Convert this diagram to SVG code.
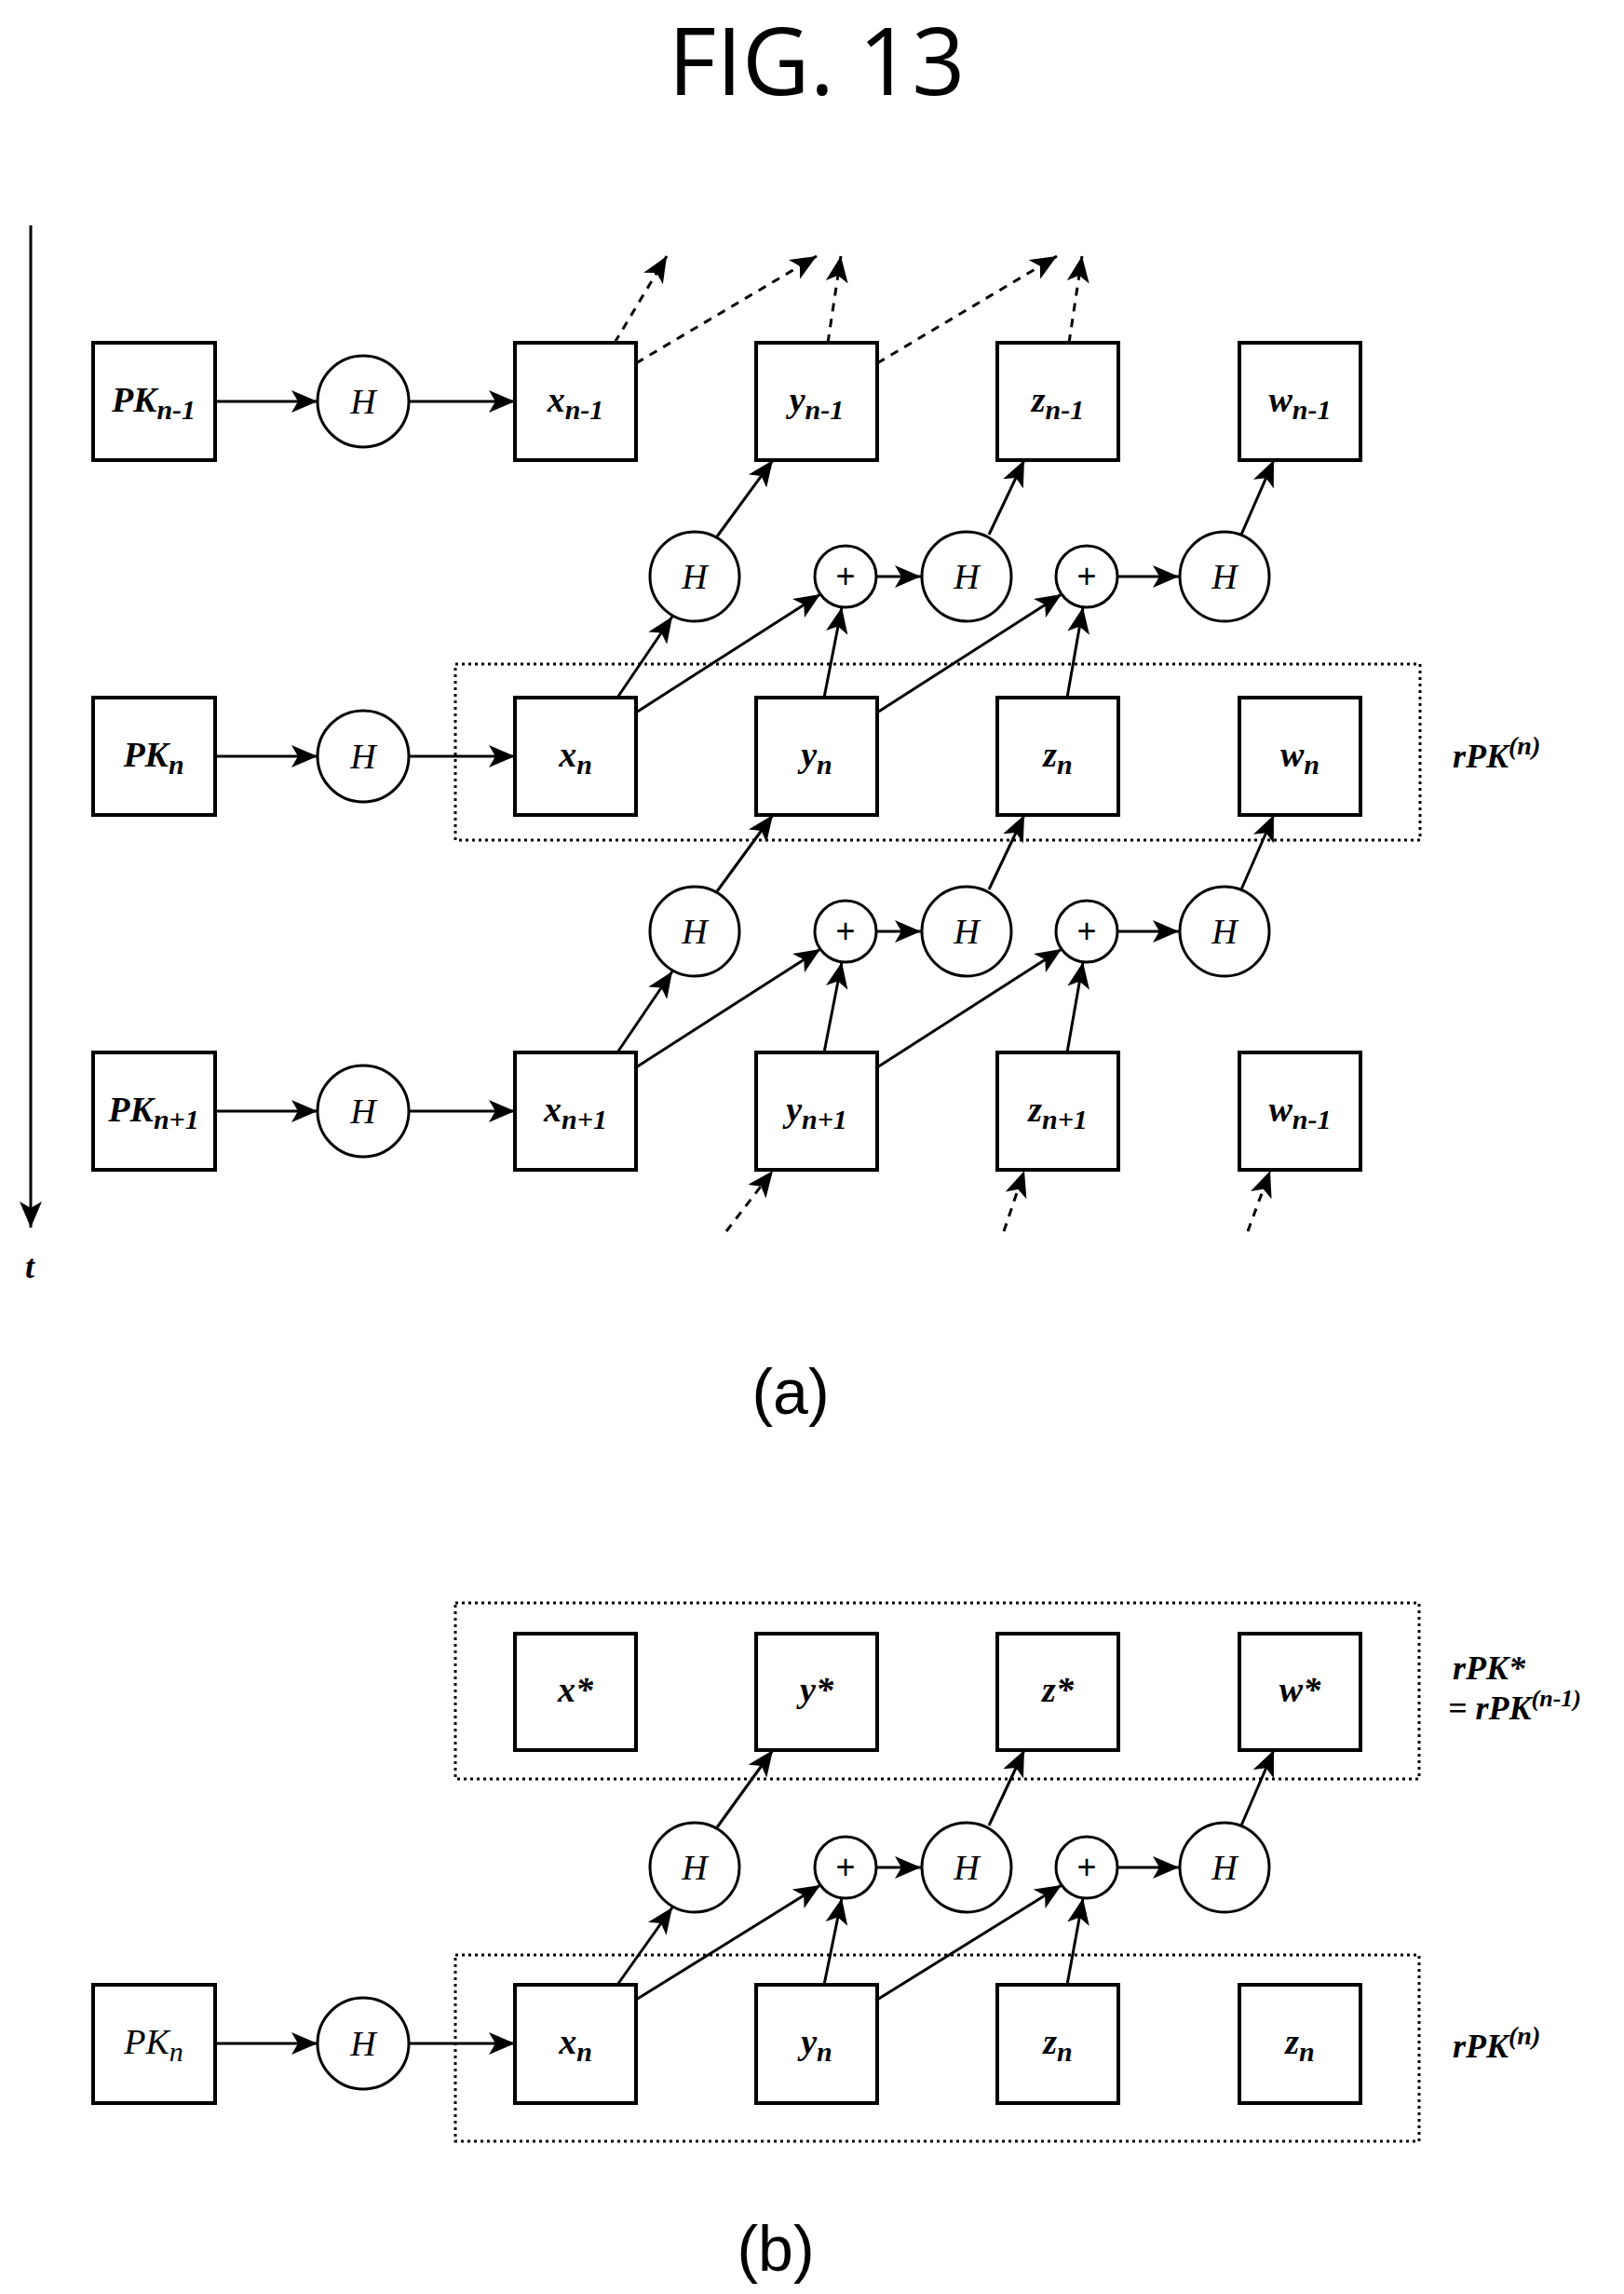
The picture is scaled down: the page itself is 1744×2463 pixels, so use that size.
<svg xmlns="http://www.w3.org/2000/svg" width="1744" height="2463" viewBox="0 0 1744 2463">
<style>
.b{fill:#fff;stroke:#000;stroke-width:4}
.c{fill:#fff;stroke:#000;stroke-width:3}
.d{fill:none;stroke:#000;stroke-width:3;stroke-dasharray:3 4}
.e{fill:none;stroke:#000;stroke-width:3;marker-end:url(#ah)}
.ed{fill:none;stroke:#000;stroke-width:3;stroke-dasharray:9 8;marker-end:url(#ah)}
.t{font-family:"Liberation Serif",serif;font-style:italic;font-weight:bold;font-size:38px;text-anchor:middle}
.h{font-family:"Liberation Serif",serif;font-style:italic;font-size:38px;text-anchor:middle}
.p{font-family:"Liberation Sans",sans-serif;font-size:36px;text-anchor:middle}
.s{font-size:30px}
.l{font-family:"Liberation Serif",serif;font-style:italic;font-weight:bold;font-size:36px}
.cap{font-family:"Liberation Sans",Arial,sans-serif;font-size:68px;text-anchor:middle}
</style>
<defs>
<marker id="ah" markerUnits="userSpaceOnUse" markerWidth="30" markerHeight="24" refX="28" refY="12" orient="auto">
<path d="M0,0 L28,12 L0,24 L7,12 Z" fill="#000"/>
</marker>
</defs>
<rect width="1744" height="2463" fill="#fff"/>
<text x="877" y="102" font-family="'Open Sans','Liberation Sans',sans-serif" font-size="100" text-anchor="middle">FIG. 13</text>

<g id="time-axis">
<line x1="33" y1="242" x2="33" y2="1318" class="e"/>
<text x="32" y="1372" class="l" font-size="44" text-anchor="middle">t</text>
</g>

<g id="connectors">
<line x1="231" y1="431" x2="341" y2="431" class="e"/>
<line x1="439" y1="431" x2="553" y2="431" class="e"/>
<line x1="231" y1="812" x2="341" y2="812" class="e"/>
<line x1="439" y1="812" x2="553" y2="812" class="e"/>
<line x1="231" y1="1193" x2="341" y2="1193" class="e"/>
<line x1="439" y1="1193" x2="553" y2="1193" class="e"/>
<line x1="660" y1="368" x2="716" y2="275" class="ed"/>
<line x1="683" y1="390" x2="877" y2="275" class="ed"/>
<line x1="889" y1="368" x2="903" y2="275" class="ed"/>
<line x1="942" y1="390" x2="1135" y2="275" class="ed"/>
<line x1="1148" y1="368" x2="1162" y2="275" class="ed"/>
<line x1="780" y1="1322" x2="830" y2="1257" class="ed"/>
<line x1="1078" y1="1322" x2="1100" y2="1257" class="ed"/>
<line x1="1340" y1="1322" x2="1364" y2="1257" class="ed"/>
<line x1="663" y1="749" x2="722" y2="662" class="e"/>
<line x1="683" y1="765" x2="881" y2="638" class="e"/>
<line x1="885" y1="749" x2="904" y2="652" class="e"/>
<line x1="941" y1="619" x2="989" y2="619" class="e"/>
<line x1="770" y1="576" x2="830" y2="494" class="e"/>
<line x1="942" y1="765" x2="1140" y2="638" class="e"/>
<line x1="1146" y1="749" x2="1163" y2="652" class="e"/>
<line x1="1200" y1="619" x2="1266" y2="619" class="e"/>
<line x1="1062" y1="574" x2="1100" y2="494" class="e"/>
<line x1="1333" y1="574" x2="1368" y2="494" class="e"/>
<line x1="663" y1="1130" x2="722" y2="1043" class="e"/>
<line x1="683" y1="1146" x2="881" y2="1019" class="e"/>
<line x1="885" y1="1130" x2="904" y2="1033" class="e"/>
<line x1="941" y1="1000" x2="989" y2="1000" class="e"/>
<line x1="770" y1="957" x2="830" y2="875" class="e"/>
<line x1="942" y1="1146" x2="1140" y2="1019" class="e"/>
<line x1="1146" y1="1130" x2="1163" y2="1033" class="e"/>
<line x1="1200" y1="1000" x2="1266" y2="1000" class="e"/>
<line x1="1062" y1="955" x2="1100" y2="875" class="e"/>
<line x1="1333" y1="955" x2="1368" y2="875" class="e"/>
<line x1="231" y1="2194" x2="341" y2="2194" class="e"/>
<line x1="439" y1="2194" x2="553" y2="2194" class="e"/>
<line x1="663" y1="2131" x2="722" y2="2048" class="e"/>
<line x1="683" y1="2147" x2="881" y2="2024" class="e"/>
<line x1="885" y1="2131" x2="904" y2="2038" class="e"/>
<line x1="941" y1="2005" x2="989" y2="2005" class="e"/>
<line x1="770" y1="1962" x2="830" y2="1879" class="e"/>
<line x1="942" y1="2147" x2="1140" y2="2024" class="e"/>
<line x1="1146" y1="2131" x2="1163" y2="2038" class="e"/>
<line x1="1200" y1="2005" x2="1266" y2="2005" class="e"/>
<line x1="1062" y1="1960" x2="1100" y2="1879" class="e"/>
<line x1="1333" y1="1960" x2="1368" y2="1879" class="e"/>
</g>

<g id="rPKn-a"><rect x="489" y="713" width="1036" height="189" class="d"/><text x="1560" y="824" class="l">rPK<tspan dy="-14" font-size="28">(n)</tspan></text></g>
<g id="rPKstar-b"><rect x="489" y="1721" width="1035" height="189" class="d"/><text x="1560" y="1803" class="l" font-size="32">rPK*</text><text x="1555" y="1846" class="l" font-size="32">= rPK<tspan dy="-14" font-size="26">(n-1)</tspan></text></g>
<g id="rPKn-b"><rect x="489" y="2099" width="1035" height="200" class="d"/><text x="1560" y="2209" class="l">rPK<tspan dy="-14" font-size="28">(n)</tspan></text></g>

<g id="PKn-1"><rect x="100" y="368" width="131" height="126" class="b"/><text x="165" y="442" class="t">PK<tspan class="s" dy="8">n-1</tspan></text></g>
<g id="H-r1"><circle cx="390" cy="431" r="49" class="c"/><text x="390" y="444" class="h">H</text></g>
<g id="xn-1"><rect x="553" y="368" width="130" height="126" class="b"/><text x="618" y="442" class="t">x<tspan class="s" dy="8">n-1</tspan></text></g>
<g id="yn-1"><rect x="812" y="368" width="130" height="126" class="b"/><text x="877" y="442" class="t">y<tspan class="s" dy="8">n-1</tspan></text></g>
<g id="zn-1"><rect x="1071" y="368" width="130" height="126" class="b"/><text x="1136" y="442" class="t">z<tspan class="s" dy="8">n-1</tspan></text></g>
<g id="wn-1"><rect x="1331" y="368" width="130" height="126" class="b"/><text x="1396" y="442" class="t">w<tspan class="s" dy="8">n-1</tspan></text></g>
<g id="H1a"><circle cx="746" cy="619" r="48" class="c"/><text x="746" y="632" class="h">H</text></g>
<g id="P1a"><circle cx="908" cy="619" r="33" class="c"/><text x="908" y="631" class="p">+</text></g>
<g id="H2a"><circle cx="1038" cy="619" r="48" class="c"/><text x="1038" y="632" class="h">H</text></g>
<g id="P2a"><circle cx="1167" cy="619" r="33" class="c"/><text x="1167" y="631" class="p">+</text></g>
<g id="H3a"><circle cx="1315" cy="619" r="48" class="c"/><text x="1315" y="632" class="h">H</text></g>
<g id="PKn"><rect x="100" y="749" width="131" height="126" class="b"/><text x="165" y="823" class="t">PK<tspan class="s" dy="8">n</tspan></text></g>
<g id="H-r2"><circle cx="390" cy="812" r="49" class="c"/><text x="390" y="825" class="h">H</text></g>
<g id="xn"><rect x="553" y="749" width="130" height="126" class="b"/><text x="618" y="823" class="t">x<tspan class="s" dy="8">n</tspan></text></g>
<g id="yn"><rect x="812" y="749" width="130" height="126" class="b"/><text x="877" y="823" class="t">y<tspan class="s" dy="8">n</tspan></text></g>
<g id="zn"><rect x="1071" y="749" width="130" height="126" class="b"/><text x="1136" y="823" class="t">z<tspan class="s" dy="8">n</tspan></text></g>
<g id="wn"><rect x="1331" y="749" width="130" height="126" class="b"/><text x="1396" y="823" class="t">w<tspan class="s" dy="8">n</tspan></text></g>
<g id="H1b"><circle cx="746" cy="1000" r="48" class="c"/><text x="746" y="1013" class="h">H</text></g>
<g id="P1b"><circle cx="908" cy="1000" r="33" class="c"/><text x="908" y="1012" class="p">+</text></g>
<g id="H2b"><circle cx="1038" cy="1000" r="48" class="c"/><text x="1038" y="1013" class="h">H</text></g>
<g id="P2b"><circle cx="1167" cy="1000" r="33" class="c"/><text x="1167" y="1012" class="p">+</text></g>
<g id="H3b"><circle cx="1315" cy="1000" r="48" class="c"/><text x="1315" y="1013" class="h">H</text></g>
<g id="PKn+1"><rect x="100" y="1130" width="131" height="126" class="b"/><text x="165" y="1204" class="t">PK<tspan class="s" dy="8">n+1</tspan></text></g>
<g id="H-r3"><circle cx="390" cy="1193" r="49" class="c"/><text x="390" y="1206" class="h">H</text></g>
<g id="xn+1"><rect x="553" y="1130" width="130" height="126" class="b"/><text x="618" y="1204" class="t">x<tspan class="s" dy="8">n+1</tspan></text></g>
<g id="yn+1"><rect x="812" y="1130" width="130" height="126" class="b"/><text x="877" y="1204" class="t">y<tspan class="s" dy="8">n+1</tspan></text></g>
<g id="zn+1"><rect x="1071" y="1130" width="130" height="126" class="b"/><text x="1136" y="1204" class="t">z<tspan class="s" dy="8">n+1</tspan></text></g>
<g id="wn-1-r3"><rect x="1331" y="1130" width="130" height="126" class="b"/><text x="1396" y="1204" class="t">w<tspan class="s" dy="8">n-1</tspan></text></g>

<text x="849" y="1518" class="cap">(a)</text>

<g id="xs"><rect x="553" y="1754" width="130" height="125" class="b"/><text x="618" y="1827" class="t">x*</text></g>
<g id="ys"><rect x="812" y="1754" width="130" height="125" class="b"/><text x="877" y="1827" class="t">y*</text></g>
<g id="zs"><rect x="1071" y="1754" width="130" height="125" class="b"/><text x="1136" y="1827" class="t">z*</text></g>
<g id="ws"><rect x="1331" y="1754" width="130" height="125" class="b"/><text x="1396" y="1827" class="t">w*</text></g>
<g id="H1c"><circle cx="746" cy="2005" r="48" class="c"/><text x="746" y="2018" class="h">H</text></g>
<g id="P1c"><circle cx="908" cy="2005" r="33" class="c"/><text x="908" y="2017" class="p">+</text></g>
<g id="H2c"><circle cx="1038" cy="2005" r="48" class="c"/><text x="1038" y="2018" class="h">H</text></g>
<g id="P2c"><circle cx="1167" cy="2005" r="33" class="c"/><text x="1167" y="2017" class="p">+</text></g>
<g id="H3c"><circle cx="1315" cy="2005" r="48" class="c"/><text x="1315" y="2018" class="h">H</text></g>
<g id="PKn-b"><rect x="100" y="2131" width="131" height="127" class="b"/><text x="165" y="2205" class="h">PK<tspan class="s" dy="8">n</tspan></text></g>
<g id="H-b"><circle cx="390" cy="2194" r="49" class="c"/><text x="390" y="2207" class="h">H</text></g>
<g id="xn-b"><rect x="553" y="2131" width="130" height="127" class="b"/><text x="618" y="2205" class="t">x<tspan class="s" dy="8">n</tspan></text></g>
<g id="yn-b"><rect x="812" y="2131" width="130" height="127" class="b"/><text x="877" y="2205" class="t">y<tspan class="s" dy="8">n</tspan></text></g>
<g id="zn-b"><rect x="1071" y="2131" width="130" height="127" class="b"/><text x="1136" y="2205" class="t">z<tspan class="s" dy="8">n</tspan></text></g>
<g id="zn-b2"><rect x="1331" y="2131" width="130" height="127" class="b"/><text x="1396" y="2205" class="t">z<tspan class="s" dy="8">n</tspan></text></g>

<text x="833" y="2438" class="cap">(b)</text>
</svg>
